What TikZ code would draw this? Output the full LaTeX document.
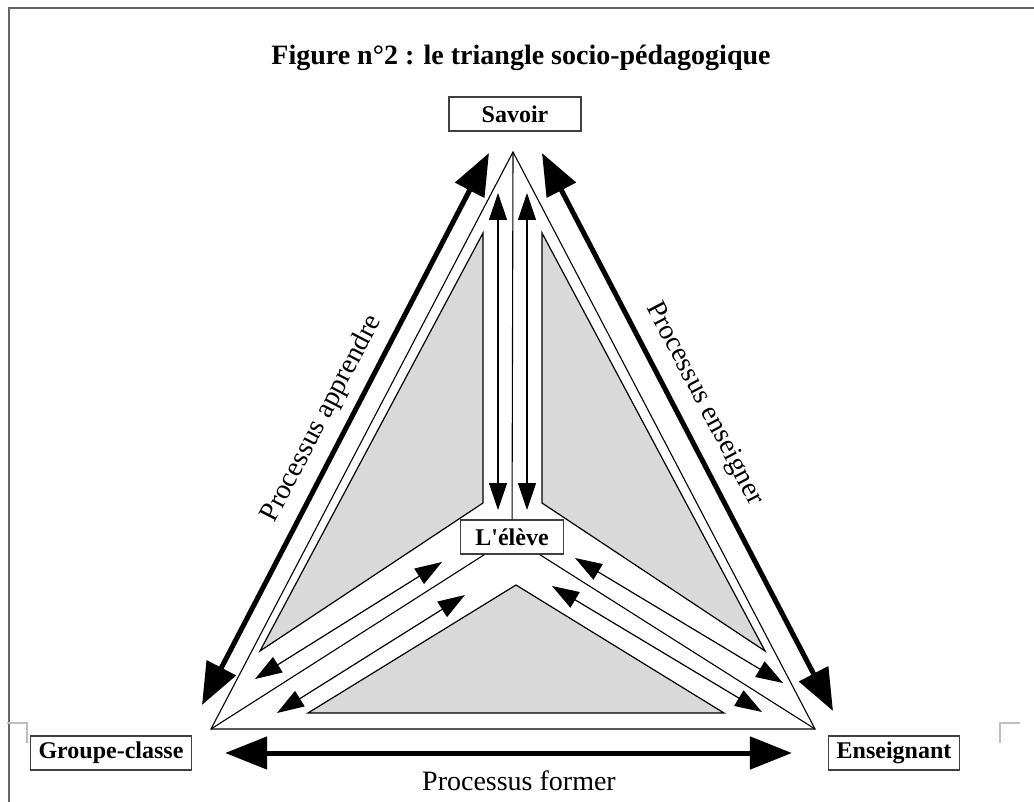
\documentclass[tikz,border=0pt]{standalone}
\usepackage{fontspec}
\setmainfont{Liberation Serif}
\usetikzlibrary{arrows.meta}

\begin{document}
\begin{tikzpicture}[x=1pt,y=-1pt,
	boite/.style={draw=black!75,line width=1.5pt,fill=white,inner xsep=8pt,minimum height=34pt,font=\fontsize{24}{28}\selectfont\bfseries},
	fleche/.style={line width=1.2pt,{Triangle[length=27pt,width=18pt]}-{Triangle[length=27pt,width=18pt]}},
	grosse/.style={line width=5pt,{Triangle[length=42pt,width=32pt]}-{Triangle[length=42pt,width=32pt]}},
	zone/.style={draw,line width=1.2pt,fill=black!15},
	legende/.style={font=\fontsize{28}{32}\selectfont,inner sep=0pt}]
	\useasboundingbox (0,0) rectangle (1034,802);
	% cadre de la page
	\draw[black!60,line width=1.8pt] (9,802)--(9,8)--(1034,8);
	\draw[black!25,line width=1.2pt] (7,723)--(27,723)--(27,743);
	\draw[black!25,line width=1.2pt] (1020,723)--(1000,723)--(1000,743);
	\node[font=\fontsize{28}{32}\selectfont\bfseries,anchor=base] (titre) at (521,65) {Figure n°2 : le triangle socio-pédagogique};

	% sommets du triangle
	\coordinate (A) at (513,152);
	\coordinate (B) at (211,729);
	\coordinate (C) at (815,729);

	% zones grises
	\draw[zone] (483,233)--(483,503)--(260,651)--cycle;
	\draw[zone] (542,233)--(542,503)--(765,651)--cycle;
	\draw[zone] (516,585)--(724,713)--(308,713)--cycle;
	\draw[line width=1.1pt] (A)--(B)--(C)--cycle;

	\node[boite,minimum width=132pt] (savoir) at (515,114) {Savoir};
	\node[boite,minimum width=103pt] (eleve) at (512,537) {L\textquotesingle élève};
	\node[boite] (groupe) at (111,753) {Groupe-classe};
	\node[boite] (prof) at (894,753) {Enseignant};
	\draw[line width=1.1pt] (A)--(eleve);
	\draw[line width=1.1pt] (B)--(eleve);
	\draw[line width=1.1pt] (C)--(eleve);

	% petites fleches
	\draw[fleche] (498,193)--(498,510);
	\draw[fleche] (527,193)--(527,510);
	\draw[fleche] (442,562)--(255,679);
	\draw[fleche] (465,595)--(277,713);
	\draw[fleche] (575,558)--(783,683);
	\draw[fleche] (552,586)--(762,712);

	% processus
	\draw[grosse] (489,153)--(202,705);
	\draw[grosse] (542,153)--(833,711);
	\draw[grosse,shorten <=33pt,shorten >=36pt] (groupe)--(prof);
	\node[legende,rotate=62.4] (apprendre) at (322,419) {Processus apprendre};
	\node[legende,rotate=-62.4] (enseigner) at (704,404) {Processus enseigner};
	\node[legende,anchor=base] (former) at (519,790) {Processus former};
\end{tikzpicture}
\end{document}
